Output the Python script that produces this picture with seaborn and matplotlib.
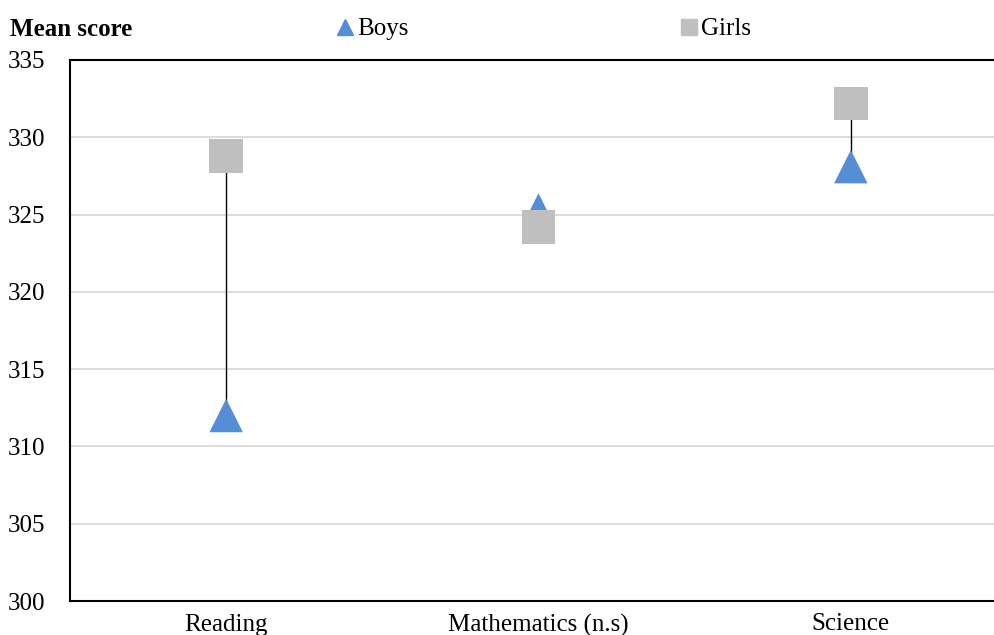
import matplotlib
matplotlib.use("Agg")
import matplotlib.pyplot as plt
from matplotlib.lines import Line2D
import seaborn as sns
import pandas as pd

categories = ["Reading", "Mathematics (n.s)", "Science"]
boys = [312.0, 325.3, 328.1]
girls = [328.8, 324.2, 332.2]
y_ticks = [300, 305, 310, 315, 320, 325, 330, 335]

sns.set_theme(style="white")
plt.rcParams["font.family"] = ["Liberation Serif", "DejaVu Serif"]
plt.rcParams["text.color"] = "black"
plt.rcParams["xtick.color"] = "black"
plt.rcParams["ytick.color"] = "black"

df = pd.DataFrame({
    "category": categories * 2,
    "score": boys + girls,
    "group": ["Boys"] * 3 + ["Girls"] * 3,
})

fig = plt.figure(figsize=(9.94, 6.35), dpi=100)
L, R, T, B = 70, 1007, 60, 601
ax = fig.add_axes([L / 994, 1 - B / 635, (R - L) / 994, (B - T) / 635])

ax.vlines(range(len(categories)), boys, girls, color="black", linewidth=1.0, zorder=2)
sns.scatterplot(data=df, x="category", y="score", hue="group", style="group",
                markers={"Boys": "^", "Girls": "s"},
                palette={"Boys": "#558ED5", "Girls": "#BFBFBF"},
                s=580, linewidth=0, ax=ax, legend=False, zorder=3)

ax.set_xlim(-0.5, 2.5)
ax.set_ylim(300, 335)
ax.set_yticks(y_ticks)
ax.yaxis.grid(True, color="#D9D9D9", linewidth=1.3)
ax.set_axisbelow(True)
ax.tick_params(axis="y", length=0, pad=18, labelsize=18, labelcolor="black")
ax.tick_params(axis="x", length=0, pad=9, labelsize=18, labelcolor="black")
ax.set_xlabel("")
ax.set_ylabel("")
for s in ["left", "bottom", "top"]:
    ax.spines[s].set_color("black")
    ax.spines[s].set_linewidth(1.5)
ax.spines["right"].set_visible(False)

fig.text(10 / 994, 1 - 30 / 635, "Mean score", fontsize=18, fontweight="bold",
         va="center", ha="left", color="black")

handles = [
    Line2D([], [], marker="^", color="#558ED5", linestyle="none", markersize=12),
    Line2D([], [], marker="s", color="#BFBFBF", linestyle="none", markersize=12),
]
fig.legend(handles, ["Boys", "Girls"], ncol=2, loc="center left",
           bbox_to_anchor=(310 / 994, 1 - 29 / 635), frameon=False,
           fontsize=18, handletextpad=0.0, columnspacing=10.7, handlelength=1.0)

fig.savefig("out.png", dpi=100)
